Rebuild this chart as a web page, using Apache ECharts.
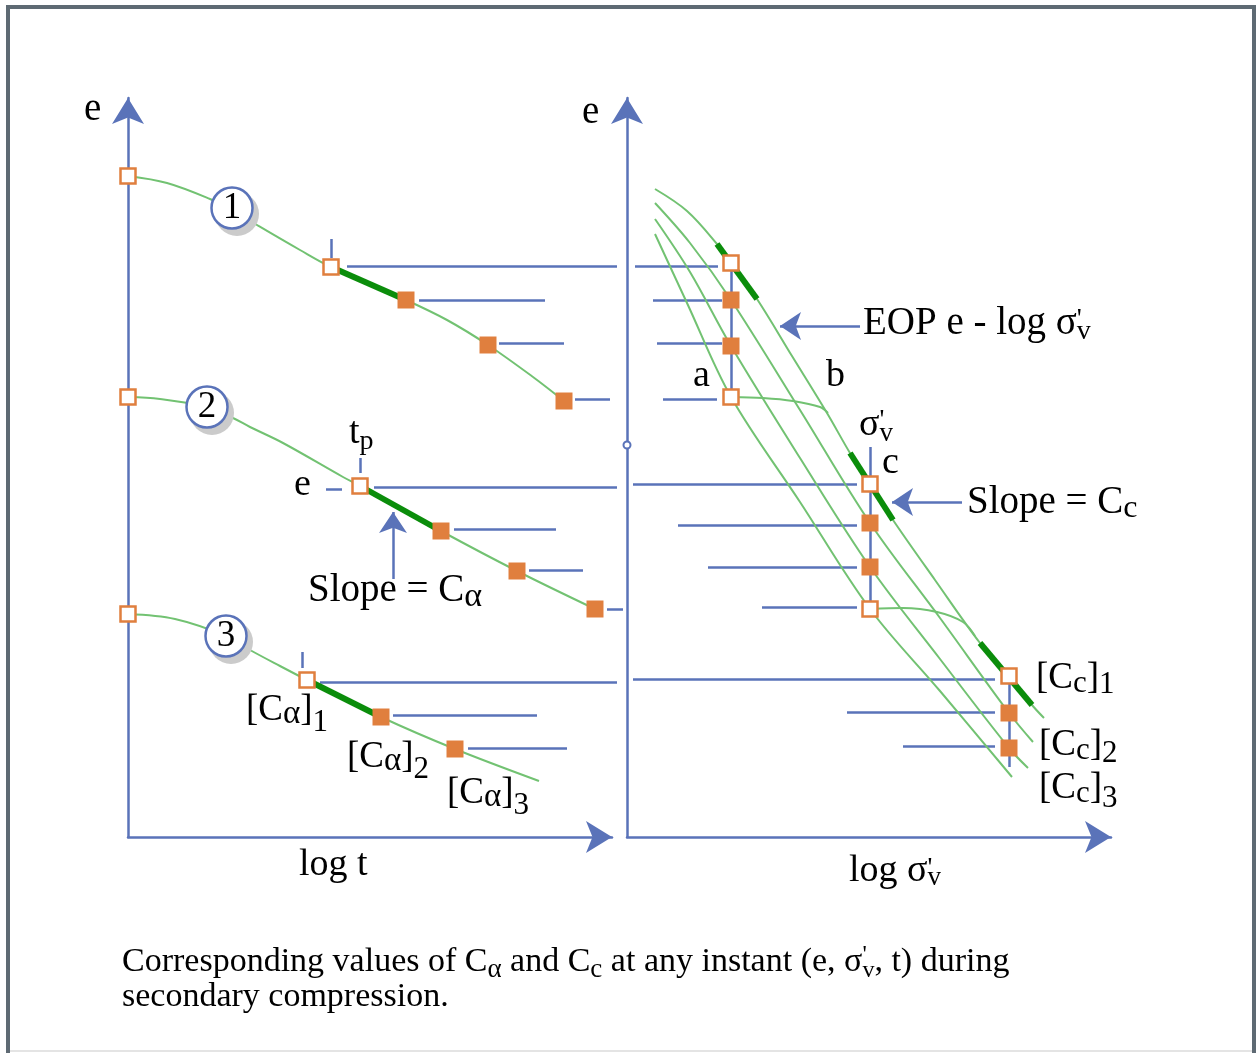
<!DOCTYPE html>
<html>
<head>
<meta charset="utf-8">
<script src="https://cdn.jsdelivr.net/npm/echarts@6/dist/echarts.min.js"></script>
<style>
  html, body { margin: 0; padding: 0; background: #fff; }
  #chart { width: 1256px; height: 1053px; }
</style>
</head>
<body>
<div id="chart"></div>
<script>
// ---- left panel: e vs log t, three load increments (schematic units) ----
const curve1 = [[0, 165.25], [9.75, 163.5], [20.5, 159.5], [26, 156.75], [32.25, 153], [43, 146.75], [50.75, 142.5], [69.5, 134.25], [79.75, 129.25], [90, 123], [101.25, 115], [109, 109]]
const curve2 = [[0, 110], [8, 109.5], [19.75, 107.5], [26.25, 104.75], [30.5, 102.5], [38.75, 98.5], [53.75, 90], [58, 87.75], [78.25, 76.5], [97.25, 66.5], [116.75, 57]]
const curve3 = [[0, 55.75], [11.75, 54.5], [24.5, 50.25], [30.5, 46.75], [38, 42.75], [44.75, 39.25], [63.25, 30], [81.75, 22], [102.75, 14]]
const curveTags = [[26, 157.25, '1'], [19.75, 107.5, '2'], [24.5, 50.25, '3']]
const leftOpen = [[0, 165.25], [50.75, 142.5], [0, 110], [58, 87.75], [0, 55.75], [44.75, 39.25]]
const leftFilled = [[69.5, 134.25], [90, 123], [109, 109], [78.25, 76.5], [97.25, 66.5], [116.75, 57], [63.25, 30], [81.75, 22]]
const leftSlopes = [[[50.75, 142.5], [69.5, 134.25]], [[58, 87.75], [78.25, 76.5]], [[44.75, 39.25], [63.25, 30]]]
// [e, from, to]
const leftLevels = [[142.75, 54.75, 122.25], [134.25, 72.75, 104.25], [123.5, 92.75, 109], [109.5, 111.75, 120.5],
  [87.5, 61.5, 122.25], [87, 49.5, 53.5], [77, 81.5, 107], [66.75, 100.25, 113.75], [57, 119.75, 123.75],
  [38.75, 48, 122.25], [30.5, 66.25, 102.25], [22.25, 85, 109.75]]
// [log t, from, to]  (t_p ticks)
const leftTicks = [[50.75, 149.5, 144.75], [58, 94.75, 91], [43.5, 46.25, 42.25]]
const leftArrow = [[66.25, 64.5], [66.25, 81.25]]

// ---- right panel: e vs log sigma'v ----
const eopCurve = [[7, 162], [15, 156.5], [22.5, 148.25], [26, 143.5], [32.5, 134.5], [41.25, 120.25], [50, 106], [55.75, 96], [60.75, 88.25], [66.5, 79.25], [77, 64.25], [88.25, 48.5], [95.5, 40.25], [101.25, 33], [104.25, 29.75]]
const curveB = [[7, 158.5], [15.75, 148.5], [26, 134.25], [43.25, 106.75], [60.75, 78.5], [78.25, 54.75], [95.5, 31], [101.5, 23.75]]
const curveC = [[7, 154.5], [15.75, 141.25], [26, 122.75], [43.25, 94.75], [60.75, 67.5], [78.25, 44.5], [95.5, 22.25], [100.25, 17.25]]
const curveD = [[7, 150.75], [15, 133.5], [26, 110], [43.25, 83.75], [60.75, 57], [78.25, 36.5], [96.25, 15]]
const bendAB = [[26, 110], [34, 109.75], [41.5, 109], [48.25, 107.5], [50.25, 106]]
const bendCD = [[60.75, 57], [69, 57.25], [77.5, 56.25], [84, 53.75], [87, 50.25]]
const rightOpen = [[26, 143.5], [26, 110], [60.75, 88.25], [60.75, 57], [95.5, 40.25]]
const rightFilled = [[26, 134.25], [26, 122.75], [60.75, 78.5], [60.75, 67.5], [95.5, 31], [95.5, 22.25]]
const rightSlopes = [[[22.5, 148.25], [32.5, 134.5]], [[55.75, 96], [66.5, 79.25]], [[88.25, 48.5], [101.25, 33]]]
const rightLevels = [[142.75, 2, 22.75], [134.25, 6.5, 23.75], [123.5, 7.5, 23.75], [109.5, 9, 22.5],
  [88.25, 1.5, 57.5], [78, 12.75, 57.5], [67.5, 20.25, 57.5], [57.5, 33.75, 57.5],
  [39.5, 1.5, 92], [31.25, 55, 92], [22.75, 69, 92]]
// [log sigma, from e, to e]
const rightVerticals = [[26, 143.5, 110], [60.75, 97.5, 57], [95.5, 40.25, 17.5]]
const rightArrows = [[[58.25, 127.75], [38.25, 127.75]], [[83.75, 83.75], [66.25, 83.75]]]
const axisDot = [[0, 98]]

const BLUE = '#5a73b9'
const GREEN = '#72c272'
const DARK_GREEN = '#0b8d0b'
const ORANGE = '#e07f3e'
const SERIF = '"Liberation Serif", "Times New Roman", serif'

const chart = echarts.init(document.getElementById('chart'))

function axisPair(grid) {
  const line = { show: true, onZero: false, symbol: ['none', 'arrow'], symbolSize: [24, 26], lineStyle: { color: BLUE, width: 2.5 } }
  return {
    x: { gridIndex: grid, type: 'value', min: 0, max: 121, axisLine: line, axisTick: { show: false }, axisLabel: { show: false }, splitLine: { show: false } },
    y: { gridIndex: grid, type: 'value', min: 0, max: 184.75, axisLine: line, axisTick: { show: false }, axisLabel: { show: false }, splitLine: { show: false } }
  }
}
const ax0 = axisPair(0)
const ax1 = axisPair(1)

function curve(data, idx) {
  return { type: 'line', xAxisIndex: idx, yAxisIndex: idx, data: data, smooth: 0.35, showSymbol: false, silent: true, z: 3,
    lineStyle: { color: GREEN, width: 2 } }
}
function segs(list, idx, color, width, z, arrow) {
  return { type: 'lines', coordinateSystem: 'cartesian2d', xAxisIndex: idx, yAxisIndex: idx, polyline: false, clip: false, silent: true, z: z,
    symbol: arrow ? ['none', 'arrow'] : 'none', symbolSize: 21,
    lineStyle: { color: color, width: width, opacity: 1, curveness: 0 },
    data: list.map(c => ({ coords: c })) }
}
function squares(data, idx, open) {
  return { type: 'scatter', xAxisIndex: idx, yAxisIndex: idx, data: data, symbol: 'rect', symbolSize: open ? 15 : 17, silent: true, z: 6, clip: false,
    itemStyle: open ? { color: '#fff', borderColor: ORANGE, borderWidth: 2.5, opacity: 1 } : { color: ORANGE, opacity: 1 } }
}
const levelSegs = l => l.map(([e, a, b]) => [[a, e], [b, e]])
const vertSegs = l => l.map(([x, a, b]) => [[x, a], [x, b]])

// text pieces with sub/superscripts; base = baseline
const meas = document.createElement('canvas').getContext('2d')
function run(x, base, parts) {
  const out = []
  let cx = x
  for (const [t, size, dy = 0, stack = false] of parts) {
    const font = size + 'px ' + SERIF
    out.push({ type: 'text', x: cx, y: base + dy - 0.34 * size, silent: true, z: 20,
      style: { text: t, font: font, fill: '#000', textAlign: 'left', textVerticalAlign: 'middle' } })
    if (!stack) { meas.font = font; cx += meas.measureText(t).width }
  }
  return out
}

const texts = [].concat(
  run(84, 123, [['e', 39]]),
  run(582, 126, [['e', 39]]),
  run(299, 878, [['log t', 38]]),
  run(849, 884, [['log σ', 38], ["'", 27, -6, true], ['v', 27, 3]]),
  run(349, 446, [['t', 38], ['p', 28, 5]]),
  run(294, 498, [['e', 38]]),
  run(308, 604, [['Slope = C', 39], ['α', 34, 5]]),
  run(246, 723, [['[C', 37], ['α', 33, 3], [']', 37], ['1', 31, 10]]),
  run(347, 770, [['[C', 37], ['α', 33, 3], [']', 37], ['2', 31, 10]]),
  run(447, 806, [['[C', 37], ['α', 33, 3], [']', 37], ['3', 31, 10]]),
  run(693, 389, [['a', 38]]),
  run(826, 389, [['b', 38]]),
  run(859, 438, [['σ', 38], ["'", 27, -8, true], ['v', 27, 5]]),
  run(882, 476, [['c', 38]]),
  run(863, 337, [['EOP e - log σ', 39], ["'", 28, -8, true], ['v', 28, 4]]),
  run(967, 516, [['Slope = C', 39], ['c', 32, 3]]),
  run(1036, 691, [['[C', 37], ['c', 31, 3], [']', 37], ['1', 31, 4]]),
  run(1039, 758, [['[C', 37], ['c', 31, 3], [']', 37], ['2', 31, 6]]),
  run(1039, 801, [['[C', 37], ['c', 31, 3], [']', 37], ['3', 31, 8]]),
  run(122, 974, [['Corresponding values of C', 34], ['α', 27, 5], [' and C', 34], ['c', 27, 5],
    [' at any instant (e, σ', 34], ["'", 24, -11, true], ['v', 24, 5], [', t) during', 34]]),
  run(122, 1009, [['secondary compression.', 34]])
)

const frame = [
  { type: 'rect', shape: { x: 6, y: 5, width: 1250, height: 4 }, style: { fill: '#5e6a73' }, silent: true },
  { type: 'rect', shape: { x: 6, y: 5, width: 4, height: 1048 }, style: { fill: '#5e6a73' }, silent: true },
  { type: 'rect', shape: { x: 1252, y: 5, width: 4, height: 1048 }, style: { fill: '#5e6a73' }, silent: true },
  { type: 'rect', shape: { x: 10, y: 1050, width: 1242, height: 2 }, style: { fill: '#e4e4e4' }, silent: true }
]

chart.setOption({
  animation: false,
  backgroundColor: '#fff',
  grid: [
    { left: 128, top: 98, width: 484, height: 739 },
    { left: 627, top: 98, width: 484, height: 739 }
  ],
  xAxis: [ax0.x, ax1.x],
  yAxis: [ax0.y, ax1.y],
  graphic: { elements: frame.concat(texts) },
  series: [
    // left panel
    curve(curve1, 0), curve(curve2, 0), curve(curve3, 0),
    segs(leftSlopes, 0, DARK_GREEN, 6, 4),
    segs(levelSegs(leftLevels), 0, BLUE, 2.5, 2),
    segs(vertSegs(leftTicks), 0, BLUE, 2.5, 2),
    segs([leftArrow], 0, BLUE, 2.5, 2, true),
    squares(leftOpen, 0, true), squares(leftFilled, 0, false),
    {
      // drop shadow behind the numbered circles
      type: 'scatter', xAxisIndex: 0, yAxisIndex: 0, silent: true, z: 7,
      data: curveTags.map(d => [d[0], d[1]]),
      symbol: 'circle', symbolSize: 44, symbolOffset: [5, 6],
      itemStyle: { color: '#cbcbcb', opacity: 1 }
    },
    {
      type: 'scatter', xAxisIndex: 0, yAxisIndex: 0, silent: true, z: 8,
      data: curveTags.map(d => ({ value: [d[0], d[1]], name: d[2] })),
      symbol: 'circle', symbolSize: 41,
      itemStyle: { color: '#fff', borderColor: BLUE, borderWidth: 2.5, opacity: 1 },
      label: { show: true, position: 'inside', formatter: p => p.name, fontFamily: SERIF, fontSize: 37, color: '#000' }
    },
    // right panel
    curve(eopCurve, 1), curve(curveB, 1), curve(curveC, 1), curve(curveD, 1), curve(bendAB, 1), curve(bendCD, 1),
    segs(rightSlopes, 1, DARK_GREEN, 6, 4),
    segs(levelSegs(rightLevels), 1, BLUE, 2.5, 2),
    segs(vertSegs(rightVerticals), 1, BLUE, 2.5, 2),
    segs(rightArrows, 1, BLUE, 2.5, 2, true),
    squares(rightOpen, 1, true), squares(rightFilled, 1, false),
    {
      type: 'scatter', xAxisIndex: 1, yAxisIndex: 1, silent: true, z: 7, clip: false,
      data: axisDot, symbol: 'circle', symbolSize: 7,
      itemStyle: { color: '#fff', borderColor: BLUE, borderWidth: 2, opacity: 1 }
    }
  ]
})
</script>
</body>
</html>
